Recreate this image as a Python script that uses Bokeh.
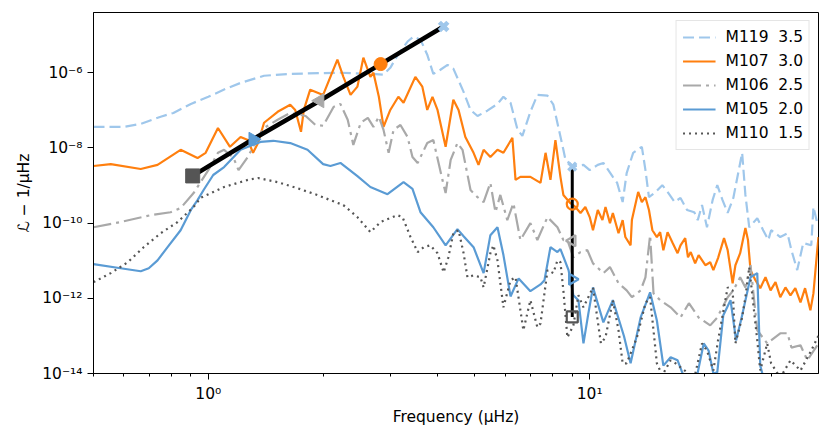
import numpy as np
from bokeh.plotting import figure
from bokeh.models import FixedTicker, CustomJSTickFormatter, Legend, LegendItem
from bokeh.embed import file_html
from bokeh.resources import INLINE

# ---------------- data (frequency in µHz, log10 of the spectrum) ----------------
m119_freq = [0.50, 0.555, 0.60, 0.665, 0.75, 0.81, 0.90, 1.0, 1.11, 1.215,
             1.40, 1.64, 2.22, 2.66, 2.88, 3.00, 3.13, 3.33, 3.45, 3.60,
             3.75, 3.89, 4.06, 4.24, 4.39, 4.67, 4.87, 5.08, 5.39, 5.73,
             5.94, 6.20, 6.47, 6.66, 6.99, 7.29, 7.75, 8.03, 8.53, 8.64,
             9.06, 9.63, 10.0, 10.5, 10.86, 11.5, 11.8, 12.2, 12.5, 13.0,
             13.7, 14.0, 14.3, 14.9, 15.5, 16.0, 16.7, 17.3, 18.0, 18.8,
             19.2, 19.7, 20.3, 21.0, 21.6, 22.3, 23.0, 23.8, 25.1, 25.6,
             26.2, 27.5, 28.5, 29.4, 29.9, 31.6, 33.0, 33.8, 35.0, 36.3,
             38.1, 38.6, 39.5]
m119_log_psd = [-7.44, -7.44, -7.44, -7.36, -7.17, -7.07, -6.83, -6.64, -6.43, -6.27,
                -6.08, -6.03, -6.0, -6.03, -6.05, -5.87, -5.55, -5.17, -5.04, -5.12,
                -5.52, -6.03, -5.92, -5.79, -5.89, -6.51, -6.99, -7.15, -7.01, -6.83,
                -6.64, -6.80, -7.52, -7.68, -7.04, -6.59, -6.61, -6.85, -8.05, -8.32,
                -8.49, -8.45, -8.59, -8.45, -8.40, -8.77, -8.93, -9.44, -8.67, -8.13,
                -7.97, -8.59, -9.31, -9.17, -8.99, -9.17, -9.44, -9.33, -9.65, -9.71,
                -9.92, -9.52, -10.11, -9.39, -8.99, -9.39, -9.73, -9.33, -8.13, -9.25,
                -10.11, -9.87, -10.19, -10.45, -10.19, -10.37, -10.27, -10.72, -11.25, -10.53,
                -10.59, -9.57, -10.0]

m107_freq = [0.50, 0.555, 0.665, 0.736, 0.846, 0.937, 0.984, 1.06, 1.14, 1.215,
             1.27, 1.31, 1.35, 1.40, 1.52, 1.64, 1.69, 1.75, 1.78, 1.85,
             2.0, 2.18, 2.26, 2.36, 2.46, 2.55, 2.66, 2.71, 2.80, 2.88,
             3.0, 3.15, 3.25, 3.49, 3.64, 3.75, 3.87, 3.99, 4.19, 4.39,
             4.53, 4.72, 4.96, 5.11, 5.27, 5.49, 5.73, 5.94, 6.27, 6.39,
             6.58, 6.99, 7.43, 7.66, 7.89, 8.13, 8.38, 8.53, 8.90, 9.17,
             9.46, 9.74, 10.0, 10.2, 10.5, 10.8, 11.0, 11.3, 11.5, 11.9,
             12.2, 12.4, 12.8, 12.9, 13.4, 13.7, 14.0, 14.3, 14.6, 15.0,
             15.3, 15.6, 16.0, 16.5, 17.0, 17.3, 17.8, 18.1, 18.4, 18.9,
             19.3, 20.1, 20.7, 21.1, 21.7, 22.5, 23.0, 23.7, 24.1, 24.8,
             25.6, 26.0, 26.4, 27.2, 28.0, 28.9, 29.8, 30.7, 31.6, 32.6,
             33.6, 34.6, 35.7, 36.7, 37.9, 38.6, 39.5, 39.8]
m107_log_psd = [-8.48, -8.43, -8.56, -8.45, -8.05, -8.27, -8.13, -7.47, -7.97, -7.71,
                -7.79, -8.13, -7.87, -7.33, -7.04, -6.85, -6.99, -7.57, -6.99, -6.45,
                -6.59, -5.65, -6.11, -6.59, -6.37, -5.6, -6.11, -6.0, -6.64, -7.44,
                -6.99, -6.64, -6.80, -6.11, -6.37, -6.99, -6.64, -6.99, -7.97, -6.72,
                -6.99, -7.71, -8.13, -8.45, -8.05, -8.24, -8.05, -8.13, -7.73, -8.85,
                -8.77, -8.77, -8.93, -8.13, -8.85, -7.79, -8.77, -9.25, -9.47, -9.57,
                -9.73, -9.57, -9.84, -10.19, -9.65, -9.92, -9.57, -10.0, -9.73, -10.27,
                -9.92, -10.37, -10.59, -9.92, -9.17, -9.44, -9.31, -9.65, -10.19, -10.37,
                -10.24, -10.72, -10.24, -10.53, -10.8, -10.59, -10.40, -10.91, -10.77, -11.07,
                -10.85, -11.12, -11.04, -11.25, -10.93, -10.40, -10.72, -11.6, -11.12, -10.8,
                -10.13, -10.45, -11.25, -11.52, -11.73, -11.44, -11.79, -11.57, -11.97, -11.71,
                -11.92, -11.73, -12.11, -11.73, -12.32, -11.87, -10.72, -10.37]

m106_freq = [0.50, 0.589, 0.706, 0.796, 0.846, 0.915, 1.0, 1.06, 1.10, 1.165,
             1.20, 1.27, 1.35, 1.40, 1.52, 1.64, 1.80, 1.91, 2.0, 2.13,
             2.22, 2.32, 2.40, 2.51, 2.62, 2.71, 2.80, 2.88, 2.97, 3.06,
             3.19, 3.33, 3.43, 3.54, 3.75, 3.89, 4.11, 4.19, 4.32, 4.50,
             4.64, 4.87, 5.08, 5.27, 5.49, 5.66, 5.83, 6.08, 6.31, 6.58,
             6.99, 7.29, 7.75, 8.23, 8.53, 8.74, 9.06, 9.46, 9.86, 10.2,
             10.86, 11.3, 11.9, 12.5, 12.9, 13.6, 14.0, 14.4, 14.7, 15.3,
             16.3, 17.3, 18.2, 19.3, 20.7, 21.6, 23.0, 23.8, 24.8, 25.6,
             26.4, 27.5, 29.2, 31.6, 33.0, 33.8, 35.7, 37.2, 39.5]
m106_log_psd = [-10.11, -9.97, -9.79, -9.71, -9.60, -9.20, -8.59, -8.13, -8.05, -8.27,
                -8.59, -8.24, -7.71, -7.47, -7.25, -7.07, -7.15, -7.39, -7.41, -6.91,
                -6.83, -7.25, -7.92, -7.33, -7.20, -7.44, -7.17, -7.52, -8.13, -7.52,
                -7.39, -7.71, -8.24, -8.40, -7.87, -7.79, -8.85, -9.20, -8.32, -7.87,
                -8.05, -9.12, -9.31, -9.44, -8.93, -9.71, -9.25, -9.92, -9.47, -10.45,
                -10.0, -10.45, -9.84, -10.11, -10.45, -10.45, -10.91, -10.77, -10.72, -11.07,
                -11.33, -11.17, -11.6, -11.79, -11.97, -11.79, -11.44, -10.32, -11.87, -12.05,
                -12.24, -12.51, -12.13, -12.51, -12.72, -12.51, -11.97, -11.79, -11.44, -11.71,
                -11.12, -12.85, -13.2, -12.93, -12.93, -13.31, -13.25, -13.65, -13.25]

m105_freq = [0.50, 0.589, 0.665, 0.698, 0.736, 0.782, 0.846, 0.90, 0.937, 0.972,
             1.03, 1.10, 1.215, 1.37, 1.48, 1.64, 1.82, 2.0, 2.09, 2.22,
             2.46, 2.66, 2.95, 3.25, 3.43, 3.60, 3.89, 4.19, 4.50, 4.67,
             4.96, 5.27, 5.49, 5.73, 5.94, 6.20, 6.51, 6.99, 7.43, 7.61,
             7.89, 8.23, 8.38, 8.80, 9.06, 9.34, 9.63, 9.92, 10.2, 10.86,
             11.5, 12.3, 12.8, 13.6, 14.4, 15.0, 15.6, 16.3, 17.0, 17.6,
             18.2, 19.2, 19.9, 20.5, 21.1, 21.6, 22.4, 23.4, 24.2, 25.0,
             26.4, 27.5, 28.0, 28.9, 33.6, 39.8]
m105_log_psd = [-11.09, -11.2, -11.28, -11.2, -10.99, -10.64, -10.19, -9.65, -9.39, -9.12,
                -8.72, -8.51, -8.05, -7.84, -7.81, -7.87, -8.05, -8.43, -8.48, -8.40,
                -8.75, -9.04, -9.23, -8.91, -9.09, -9.71, -10.11, -10.59, -10.16, -10.35,
                -10.64, -11.33, -10.32, -10.11, -10.85, -11.95, -11.47, -11.81, -11.63, -11.52,
                -10.64, -10.77, -10.69, -11.25, -11.92, -12.05, -13.2, -12.4, -11.71, -12.64,
                -12.05, -13.01, -13.73, -12.51, -11.84, -12.59, -13.79, -13.57, -13.65, -14.05,
                -14.32, -13.97, -13.2, -13.39, -14.0, -13.97, -12.45, -12.05, -13.12, -12.53,
                -11.44, -11.33, -13.79, -14.32, -14.59, -14.51]

m110_freq = [0.50, 0.555, 0.615, 0.677, 0.75, 0.831, 0.915, 0.954, 1.10, 1.27,
             1.35, 1.52, 1.71, 1.93, 2.09, 2.26, 2.46, 2.66, 2.83, 3.13,
             3.23, 3.39, 3.54, 3.67, 3.82, 3.99, 4.14, 4.26, 4.39, 4.53,
             4.67, 4.78, 4.96, 5.17, 5.27, 5.49, 5.59, 5.73, 5.94, 6.20,
             6.39, 6.70, 6.99, 7.29, 7.43, 7.75, 8.03, 8.23, 8.38, 8.53,
             8.74, 9.06, 9.34, 9.63, 10.2, 10.7, 11.0, 11.5, 11.9, 12.2,
             12.5, 13.3, 14.0, 14.4, 15.0, 15.5, 16.3, 16.8, 18.0, 18.8,
             19.7, 20.3, 21.1, 21.7, 23.0, 23.7, 24.1, 25.1, 25.6, 26.2,
             27.5, 28.0, 29.2, 29.9, 31.6, 33.6, 35.7, 38.1, 39.8]
m110_log_psd = [-11.57, -11.33, -11.04, -10.64, -10.27, -9.97, -9.57, -9.33, -9.04, -8.85,
                -8.80, -8.91, -9.07, -9.25, -9.39, -9.52, -9.84, -10.24, -9.97, -9.79,
                -9.84, -10.37, -10.77, -10.64, -10.59, -10.8, -11.31, -10.91, -10.27, -10.19,
                -10.8, -11.44, -11.39, -11.44, -11.71, -10.8, -10.59, -10.99, -12.24, -11.52,
                -11.44, -12.85, -12.05, -12.77, -12.67, -11.25, -11.33, -10.99, -11.04, -11.79,
                -13.04, -12.72, -11.92, -12.24, -11.71, -13.2, -13.04, -12.05, -12.85, -13.73,
                -13.73, -13.04, -12.13, -11.97, -13.73, -14.05, -13.65, -13.73, -13.97, -14.13,
                -13.2, -13.39, -13.92, -13.12, -11.71, -11.79, -13.2, -12.51, -11.97, -11.17,
                -13.12, -13.92, -13.2, -13.73, -14.11, -13.65, -13.92, -13.39, -12.99]

series_names = ["M119", "M107", "M106", "M105", "M110"]
series_masses = ["3.5", "3.0", "2.5", "2.0", "1.5"]

# scaling line (diagonal) and value line (vertical) - one point per model
diag_freq = [0.91, 1.31, 1.96, 2.83, 4.14]
diag_psd = [1.8e-9, 1.7e-8, 1.8e-7, 1.7e-6, 1.7e-5]
diag_models = ["M110", "M105", "M106", "M107", "M119"]
vert_freq = [9.0, 9.0, 9.0, 9.0, 9.0]
vert_psd = [3.2e-9, 3.2e-10, 3.4e-11, 3.2e-12, 3.2e-13]
vert_models = ["M119", "M107", "M106", "M105", "M110"]

x_major_ticks = [1, 10]
x_minor_ticks = [0.5, 0.6, 0.7, 0.8, 0.9, 2, 3, 4, 5, 6, 7, 8, 9, 20, 30]
y_major_ticks = [1e-14, 1e-12, 1e-10, 1e-8, 1e-6]

# ---------------- styles ----------------
FONT = "DejaVu Sans"
FS = "15.5px"
colors = {"M119": "#9fc7eb", "M107": "#ff7f0e", "M106": "#a9a9a9",
          "M105": "#5a9bd4", "M110": "#555555"}
dashes = {"M119": "11 5", "M107": "solid", "M106": "18 5 3 5",
          "M105": "solid", "M110": "2 4"}
marker_shape = {"M119": "x", "M107": "circle", "M106": "triangle",
                "M105": "triangle", "M110": "square"}
marker_angle = {"M119": 0.0, "M107": 0.0, "M106": np.pi / 2,
                "M105": -np.pi / 2, "M110": 0.0}

p = figure(width=822, height=430, x_axis_type="log", y_axis_type="log",
           x_range=(0.5, 39.8), y_range=(1e-14, 4e-5),
           min_border_left=93, min_border_right=4, min_border_top=12, min_border_bottom=57,
           output_backend="svg", toolbar_location=None)
p.xgrid.visible = False
p.ygrid.visible = False
p.outline_line_color = "black"
p.outline_line_width = 1
p.outline_line_alpha = 1.0
p.background_fill_color = "white"
p.border_fill_color = "white"

fmt_code = """
const e = Math.round(Math.log10(tick));
const sup = {'-':'\u207b','0':'\u2070','1':'\u00b9','2':'\u00b2','3':'\u00b3','4':'\u2074',
             '5':'\u2075','6':'\u2076','7':'\u2077','8':'\u2078','9':'\u2079'};
return '10' + String(e).split('').map(c => sup[c]).join('');
"""
p.xaxis.ticker = FixedTicker(ticks=x_major_ticks, minor_ticks=x_minor_ticks)
p.yaxis.ticker = FixedTicker(ticks=y_major_ticks, minor_ticks=[])
p.xaxis.formatter = CustomJSTickFormatter(code=fmt_code)
p.yaxis.formatter = CustomJSTickFormatter(code=fmt_code)

for ax in (p.xaxis[0], p.yaxis[0]):
    ax.major_label_text_font = FONT
    ax.major_label_text_font_size = FS
    ax.major_label_text_color = "black"
    ax.axis_label_text_font = FONT
    ax.axis_label_text_font_size = FS
    ax.axis_label_text_font_style = "normal"
    ax.axis_label_text_color = "black"
    ax.axis_line_color = "black"
    ax.major_tick_line_color = "black"
    ax.minor_tick_line_color = "black"
    ax.major_tick_in = 0
    ax.major_tick_out = 6
    ax.minor_tick_in = 0
    ax.minor_tick_out = 3
    ax.major_label_standoff = 5

p.xaxis.axis_label = "Frequency (\u03bcHz)"
p.yaxis.axis_label = "\u2112 \u2212 1/\u03bcHz"
p.yaxis.axis_label_standoff = 6
p.xaxis.axis_label_standoff = 2

data = {
    "M119": (m119_freq, m119_log_psd),
    "M107": (m107_freq, m107_log_psd),
    "M106": (m106_freq, m106_log_psd),
    "M105": (m105_freq, m105_log_psd),
    "M110": (m110_freq, m110_log_psd),
}

items = []
for name, mass in zip(series_names, series_masses):
    f, lg = data[name]
    r = p.line(f, 10.0 ** np.array(lg), line_color=colors[name], line_width=2.2,
               line_dash=dashes[name])
    items.append(LegendItem(label=f"{name}\u00a0\u00a0{mass}", renderers=[r]))

# black guide lines
p.line(diag_freq, diag_psd, line_color="black", line_width=4.5)
p.line(vert_freq, vert_psd, line_color="black", line_width=3)

# filled markers on the diagonal
for fx, py, m in zip(diag_freq, diag_psd, diag_models):
    shape = marker_shape[m]
    if shape == "x":
        p.scatter([fx], [py], marker="x", size=12, line_color=colors[m], line_width=4.5)
    else:
        sz = 14 if shape != "circle" else 13
        p.scatter([fx], [py], marker=shape, size=sz, angle=marker_angle[m],
                  fill_color=colors[m], line_color=colors[m], line_width=1)

# hollow markers on the vertical line
for fx, py, m in zip(vert_freq, vert_psd, vert_models):
    shape = marker_shape[m]
    if shape == "x":
        p.scatter([fx], [py], marker="x", size=11, line_color=colors[m], line_width=3.5)
    else:
        p.scatter([fx], [py], marker=shape, size=11, angle=marker_angle[m],
                  fill_color=None, line_color=colors[m], line_width=2.2)

legend = Legend(items=items, location="top_right")
legend.label_text_font = FONT
legend.label_text_font_size = FS
legend.label_text_color = "black"
legend.glyph_width = 33
legend.glyph_height = 20
legend.label_height = 20
legend.label_standoff = 10
legend.spacing = 4
legend.padding = 6
legend.margin = 8
legend.border_line_color = "#cccccc"
legend.border_line_width = 1
legend.background_fill_color = "white"
legend.background_fill_alpha = 0.8
p.add_layout(legend)

open("out.html", "w").write(file_html(p, INLINE))
